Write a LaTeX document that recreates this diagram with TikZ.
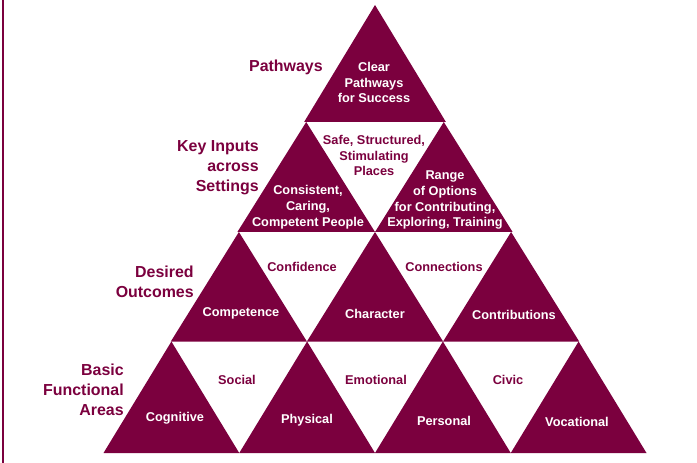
\documentclass[tikz,border=0pt]{standalone}
\usepackage{fontspec}
\setmainfont{Liberation Sans}
\usetikzlibrary{positioning}
\definecolor{maroon}{RGB}{123,0,62}

\begin{document}
\begin{tikzpicture}[x=1bp,y=-1bp,semithick]
  \tikzstyle{tri}=[fill=maroon]
  \tikzstyle{tritext}=[text=white,align=center,inner sep=0pt,font=\bfseries\fontsize{12.8}{16}\selectfont]
  \tikzstyle{gaptext}=[tritext,text=maroon]
  \tikzstyle{rowlabel}=[text=maroon,align=right,anchor=east,inner sep=0pt,font=\bfseries\fontsize{16}{20}\selectfont]

  \useasboundingbox (0,0) rectangle (697,463);
  \draw[maroon,line width=2bp] (3,0) -- (3,463);

  % top row
  \fill[tri] (375,5) -- (445.9,122) -- (304.1,122) -- cycle;
  % second row
  \fill[tri] (306.2,122) -- (375,232) -- (237.4,232) -- cycle;
  \fill[tri] (443.8,122) -- (512.6,232) -- (375,232) -- cycle;
  % third row
  \fill[tri] (238.9,232) -- (306.9,341.5) -- (170.8,341.5) -- cycle;
  \fill[tri] (375,232) -- (443.1,341.5) -- (306.9,341.5) -- cycle;
  \fill[tri] (511.1,232) -- (579.2,341.5) -- (443.1,341.5) -- cycle;
  % bottom row
  \fill[tri] (171.4,341.5) -- (239.25,453) -- (103.5,453) -- cycle;
  \fill[tri] (307.1,341.5) -- (375,453) -- (239.25,453) -- cycle;
  \fill[tri] (442.9,341.5) -- (510.75,453) -- (375,453) -- cycle;
  \fill[tri] (578.6,341.5) -- (646.5,453) -- (510.75,453) -- cycle;

  % row labels
  \node[rowlabel] (pathways) at (323,67)    {Pathways};
  \node[rowlabel] (inputs)   at (259,167.5) {Key Inputs\\across\\Settings};
  \node[rowlabel] (outcomes) at (194,281.5) {Desired\\Outcomes};
  \node[rowlabel] (areas)    at (124,389.5) {Basic\\Functional\\Areas};

  % triangle texts
  \node[tritext] (clear)   at (374,82.5)  {Clear\\Pathways\\for Success};
  \node[gaptext] (safe)    at (374,155.5) {Safe, Structured,\\Stimulating\\Places};
  \node[tritext] (people)  at (308,207)   {Consistent,\\Caring,\\Competent People};
  \node[tritext] (options) at (445,200)   {Range\\of Options\\for Contributing,\\Exploring, Training};

  \node[gaptext] (confidence)    at (302,266.5) {Confidence};
  \node[gaptext] (connections)   at (444,266.5) {Connections};
  \node[tritext] (competence)    at (241,313.5) {Competence};
  \node[tritext] (character)     at (375,313.5) {Character};
  \node[tritext] (contributions) at (514,314.5) {Contributions};

  \node[gaptext] (social)     at (237,379.5) {Social};
  \node[gaptext] (emotional)  at (376,379.5) {Emotional};
  \node[gaptext] (civic)      at (508,379.5) {Civic};
  \node[tritext] (cognitive)  at (175,418.5) {Cognitive};
  \node[tritext] (physical)   at (307,420.5) {Physical};
  \node[tritext] (personal)   at (444,420.5) {Personal};
  \node[tritext] (vocational) at (577,421.5) {Vocational};
\end{tikzpicture}
\end{document}
